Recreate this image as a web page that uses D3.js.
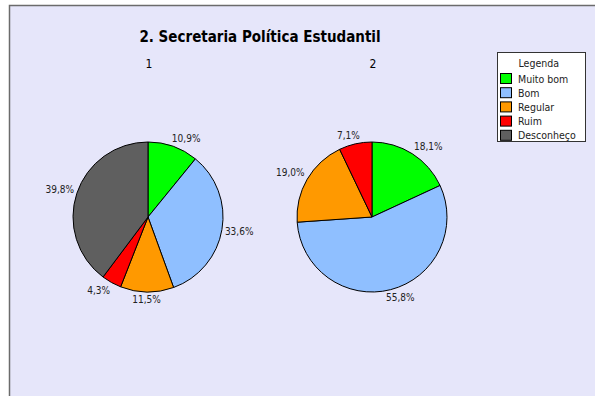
<!DOCTYPE html>
<html>
<head>
<meta charset="utf-8">
<script src="https://cdn.jsdelivr.net/npm/d3@7"></script>
<style>
  body { margin: 0; background: #fff; }
  text { font-family: "DejaVu Sans Condensed", "DejaVu Sans", sans-serif; fill: #222; }
</style>
</head>
<body>
<div id="chart"></div>
<script>
// data
var chartTitle = "2. Secretaria Política Estudantil";
var categories = ["Muito bom", "Bom", "Regular", "Ruim", "Desconheço"];
var pieNames = ["1", "2"];
var pie1Values = [10.9, 33.6, 11.5, 4.3, 39.8];
var pie2Values = [18.1, 55.8, 19.0, 7.1, 0];
var colors = ["#00ff00", "#8fbfff", "#ff9900", "#ff0000", "#5f5f5f"];

var width = 595, height = 396;

var svg = d3.select("#chart").append("svg")
    .attr("width", width)
    .attr("height", height);

// chart area
svg.append("rect")
    .attr("x", 9.5).attr("y", 5.5)
    .attr("width", width + 10).attr("height", height + 10)
    .attr("fill", "#e6e6fa")
    .attr("stroke", "#6b6b6b")
    .attr("stroke-width", 1.5);

svg.append("text")
    .attr("x", 260).attr("y", 42)
    .attr("text-anchor", "middle")
    .style("font-size", "15px")
    .style("font-weight", "bold")
    .style("fill", "#000")
    .text(chartTitle);

var radius = 75;
var cy = 217;
var xPie = d3.scalePoint().domain(pieNames).range([148, 372]);

var pie = d3.pie().sort(null).value(function(d) { return d; });
var arc = d3.arc().innerRadius(0).outerRadius(radius);
var fmt = function(v) { return v.toFixed(1).replace(".", ",") + "%"; };

[pie1Values, pie2Values].forEach(function(values, i) {
    var g = svg.append("g")
        .attr("transform", "translate(" + xPie(pieNames[i]) + "," + cy + ")");

    g.append("text")
        .attr("x", 1)
        .attr("y", -149)
        .attr("text-anchor", "middle")
        .style("font-size", "12px")
        .style("fill", "#000")
        .text(pieNames[i]);

    var arcs = pie(values).filter(function(d) { return d.value > 0; });

    g.selectAll(".slice")
        .data(arcs)
        .enter().append("path")
        .attr("class", "slice")
        .attr("d", arc)
        .attr("fill", function(d) { return colors[d.index]; })
        .attr("stroke", "#000")
        .attr("stroke-width", 1);

    // labels outside the pie, box nudged away from the edge
    g.selectAll(".lbl")
        .data(arcs)
        .enter().append("text")
        .attr("class", "lbl")
        .attr("text-anchor", "middle")
        .attr("dy", "0.35em")
        .style("font-size", "10px")
        .text(function(d) { return fmt(d.value); })
        .each(function(d) {
            var a = (d.startAngle + d.endAngle) / 2;
            var s = Math.sin(a), c = Math.cos(a);
            var w = this.getComputedTextLength(), h = 10;
            var clamp = function(v) { return Math.max(-1, Math.min(1, v)); };
            var x = (radius + 3) * s + w / 2 * clamp(2.5 * s);
            var y = -(radius + 3) * c - h / 2 * clamp(2 * c);
            d3.select(this).attr("x", x).attr("y", y);
        });
});

// legend
var legend = svg.append("g").attr("transform", "translate(497.5,52.5)");
legend.append("rect")
    .attr("width", 88).attr("height", 89)
    .attr("fill", "#fff")
    .attr("stroke", "#333")
    .attr("stroke-width", 1);
legend.append("text")
    .attr("x", 21).attr("y", 14)
    .style("font-size", "10.5px")
    .text("Legenda");
var item = legend.selectAll(".item")
    .data(categories)
    .enter().append("g")
    .attr("class", "item")
    .attr("transform", function(d, i) { return "translate(0," + (21 + i * 14.2) + ")"; });
item.append("rect")
    .attr("x", 3).attr("width", 11).attr("height", 10)
    .attr("fill", function(d, i) { return colors[i]; })
    .attr("stroke", "#000");
item.append("text")
    .attr("x", 20.5).attr("y", 9)
    .style("font-size", "10.5px")
    .text(function(d) { return d; });
</script>
</body>
</html>
